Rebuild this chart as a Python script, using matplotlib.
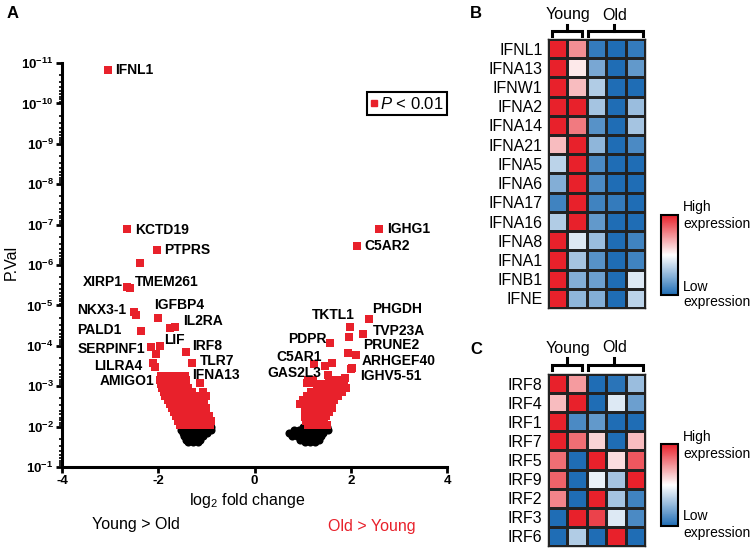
import matplotlib
matplotlib.use('Agg')
import matplotlib.pyplot as plt
from matplotlib.colors import LinearSegmentedColormap
from matplotlib.lines import Line2D
from matplotlib.ticker import LogLocator, NullFormatter
import numpy as np

plt.rcParams.update({
    'font.family': ['Liberation Sans', 'DejaVu Sans'],
    'mathtext.fontset': 'custom',
    'mathtext.rm': 'Liberation Sans',
    'mathtext.bf': 'Liberation Sans:bold',
    'mathtext.it': 'Liberation Sans:italic',
    'axes.unicode_minus': False,
})

RED = '#e8212b'
BLUE = '#1f6db5'

# ---- volcano data: (log2 fold change, P value) ----
labeled = [
    ('IFNL1', -3.05, 1.5e-11), ('KCTD19', -2.65, 1.3e-7), ('PTPRS', -2.03, 4.3e-7),
    ('', -2.38, 9.0e-7), ('XIRP1', -2.65, 3.6e-6), ('TMEM261', -2.59, 3.8e-6),
    ('NKX3-1', -2.51, 1.45e-5), ('', -2.47, 1.7e-5), ('IGFBP4', -2.0, 2.0e-5),
    ('IL2RA', -1.76, 3.6e-5), ('', -1.66, 3.4e-5), ('PALD1', -2.36, 4.3e-5),
    ('LIF', -1.97, 1.0e-4), ('SERPINF1', -2.15, 1.1e-4), ('', -2.05, 1.6e-4),
    ('IRF8', -1.43, 1.4e-4), ('TLR7', -1.29, 2.7e-4), ('LILRA4', -2.1, 2.7e-4),
    ('', -2.07, 3.3e-4), ('IFNA13', -1.13, 8.3e-4),
    ('IGHG1', 2.59, 1.3e-7), ('C5AR2', 2.13, 3.4e-7), ('PHGDH', 2.38, 2.2e-5),
    ('TKTL1', 1.99, 3.4e-5), ('TVP23A', 2.26, 5.1e-5), ('', 1.97, 6.0e-5),
    ('PDPR', 1.57, 8.5e-5), ('PRUNE2', 1.95, 1.5e-4), ('', 2.11, 1.7e-4),
    ('C5AR1', 1.24, 2.8e-4), ('', 1.47, 3.2e-4), ('', 1.61, 2.7e-4),
    ('ARHGEF40', 2.02, 3.5e-4), ('', 2.0, 3.8e-4), ('GAS2L3', 1.53, 5.2e-4),
    ('IGHV5-51', 1.88, 6.3e-4), ('', 1.09, 8.3e-4), ('', 1.22, 8.1e-4),
    ('', 0.95, 2.75e-3), ('', 1.05, 5.8e-3),
]

# label text anchor: (x, y, ha)
label_pos = {
    'IFNL1': (-2.90, 1.5e-11, 'left'), 'KCTD19': (-2.48, 1.35e-7, 'left'),
    'PTPRS': (-1.88, 4.3e-7, 'left'), 'XIRP1': (-2.73, 2.6e-6, 'right'),
    'TMEM261': (-2.48, 2.6e-6, 'left'), 'NKX3-1': (-2.66, 1.3e-5, 'right'),
    'PALD1': (-2.76, 4.1e-5, 'right'), 'IGFBP4': (-2.09, 9.8e-6, 'left'),
    'IL2RA': (-1.48, 2.45e-5, 'left'), 'LIF': (-1.88, 7.2e-5, 'left'),
    'SERPINF1': (-2.28, 1.2e-4, 'right'), 'IRF8': (-1.29, 1.0e-4, 'left'),
    'LILRA4': (-2.32, 3.2e-4, 'right'), 'TLR7': (-1.13, 2.35e-4, 'left'),
    'IFNA13': (-1.30, 5.4e-4, 'left'), 'AMIGO1': (-2.07, 7.4e-4, 'right'),
    'IGHG1': (2.75, 1.3e-7, 'left'), 'C5AR2': (2.28, 3.4e-7, 'left'),
    'PHGDH': (2.44, 1.23e-5, 'left'), 'TKTL1': (2.09, 1.74e-5, 'right'),
    'TVP23A': (2.46, 4.3e-5, 'left'), 'PDPR': (1.50, 6.8e-5, 'right'),
    'PRUNE2': (2.25, 9.5e-5, 'left'), 'C5AR1': (1.40, 1.9e-4, 'right'),
    'ARHGEF40': (2.23, 2.4e-4, 'left'), 'GAS2L3': (1.38, 4.8e-4, 'right'),
    'IGHV5-51': (2.19, 5.6e-4, 'left'),
}

left_sig = [
    (-1.94, 5.5e-4), (-1.82, 5.5e-4), (-1.76, 5.5e-4), (-1.61, 5.5e-4), (-1.45, 5.5e-4),
    (-1.97, 7.0e-4), (-1.88, 7.0e-4), (-1.72, 7.0e-4), (-1.55, 7.0e-4), (-1.42, 7.0e-4),
    (-1.95, 8.9e-4), (-1.85, 8.9e-4), (-1.76, 8.9e-4), (-1.66, 8.9e-4), (-1.55, 8.9e-4), (-1.45, 8.9e-4),
    (-1.92, 1.12e-3), (-1.82, 1.12e-3), (-1.72, 1.12e-3), (-1.62, 1.12e-3), (-1.5, 1.12e-3), (-1.38, 1.12e-3),
    (-1.88, 1.41e-3), (-1.78, 1.41e-3), (-1.68, 1.41e-3), (-1.56, 1.41e-3), (-1.45, 1.41e-3), (-1.3, 1.41e-3), (-1.07, 1.41e-3),
    (-1.85, 1.78e-3), (-1.74, 1.78e-3), (-1.64, 1.78e-3), (-1.52, 1.78e-3), (-1.4, 1.78e-3), (-1.2, 1.78e-3), (-1.0, 1.78e-3),
    (-1.8, 2.24e-3), (-1.7, 2.24e-3), (-1.6, 2.24e-3), (-1.48, 2.24e-3), (-1.36, 2.24e-3), (-1.22, 2.24e-3), (-1.1, 2.24e-3),
    (-1.76, 2.82e-3), (-1.66, 2.82e-3), (-1.55, 2.82e-3), (-1.44, 2.82e-3), (-1.32, 2.82e-3), (-1.15, 2.82e-3), (-1.05, 2.82e-3),
    (-1.72, 3.55e-3), (-1.62, 3.55e-3), (-1.5, 3.55e-3), (-1.4, 3.55e-3), (-1.28, 3.55e-3), (-1.12, 3.55e-3), (-1.0, 3.55e-3),
    (-1.68, 4.47e-3), (-1.58, 4.47e-3), (-1.47, 4.47e-3), (-1.35, 4.47e-3), (-1.22, 4.47e-3), (-1.08, 4.47e-3),
    (-1.64, 5.62e-3), (-1.54, 5.62e-3), (-1.42, 5.62e-3), (-1.3, 5.62e-3), (-1.18, 5.62e-3), (-1.05, 5.62e-3), (-0.95, 5.62e-3),
    (-1.6, 7.08e-3), (-1.5, 7.08e-3), (-1.38, 7.08e-3), (-1.25, 7.08e-3), (-1.12, 7.08e-3), (-0.98, 7.08e-3), (-0.9, 7.08e-3),
    (-1.55, 8.9e-3), (-1.45, 8.9e-3), (-1.32, 8.9e-3), (-1.2, 8.9e-3), (-1.05, 8.9e-3), (-0.92, 8.9e-3),
]

right_sig = [
    (1.12, 7.0e-4), (1.22, 7.0e-4), (1.55, 7.0e-4), (1.68, 7.0e-4), (1.8, 7.0e-4),
    (1.38, 8.9e-4), (1.5, 8.9e-4), (1.62, 8.9e-4), (1.74, 8.9e-4), (1.86, 8.9e-4),
    (1.3, 1.12e-3), (1.42, 1.12e-3), (1.55, 1.12e-3), (1.66, 1.12e-3), (1.78, 1.12e-3), (1.9, 1.12e-3),
    (1.18, 1.41e-3), (1.3, 1.41e-3), (1.45, 1.41e-3), (1.58, 1.41e-3), (1.7, 1.41e-3), (1.82, 1.41e-3),
    (1.1, 1.78e-3), (1.22, 1.78e-3), (1.35, 1.78e-3), (1.48, 1.78e-3), (1.6, 1.78e-3), (1.74, 1.78e-3),
    (1.0, 2.24e-3), (1.15, 2.24e-3), (1.28, 2.24e-3), (1.4, 2.24e-3), (1.52, 2.24e-3), (1.66, 2.24e-3),
    (1.08, 2.82e-3), (1.2, 2.82e-3), (1.33, 2.82e-3), (1.45, 2.82e-3), (1.58, 2.82e-3),
    (1.12, 3.55e-3), (1.25, 3.55e-3), (1.38, 3.55e-3), (1.5, 3.55e-3), (1.62, 3.55e-3),
    (1.05, 4.47e-3), (1.18, 4.47e-3), (1.3, 4.47e-3), (1.42, 4.47e-3), (1.55, 4.47e-3),
    (1.12, 5.62e-3), (1.24, 5.62e-3), (1.36, 5.62e-3), (1.48, 5.62e-3),
    (1.08, 7.08e-3), (1.2, 7.08e-3), (1.32, 7.08e-3), (1.45, 7.08e-3),
    (1.12, 8.9e-3), (1.25, 8.9e-3), (1.38, 8.9e-3), (1.5, 8.9e-3),
]

left_ns = [
    (-1.5, 1.0e-2), (-1.4, 1.0e-2), (-1.3, 1.0e-2), (-1.2, 1.0e-2), (-1.1, 1.0e-2), (-1.0, 1.0e-2), (-0.9, 1.0e-2),
    (-1.52, 1.2e-2), (-1.42, 1.2e-2), (-1.32, 1.2e-2), (-1.22, 1.2e-2), (-1.12, 1.2e-2), (-1.02, 1.2e-2), (-0.9, 1.2e-2),
    (-1.48, 1.45e-2), (-1.38, 1.45e-2), (-1.28, 1.45e-2), (-1.18, 1.45e-2), (-1.08, 1.45e-2), (-0.98, 1.45e-2),
    (-1.46, 1.75e-2), (-1.36, 1.75e-2), (-1.26, 1.75e-2), (-1.16, 1.75e-2), (-1.06, 1.75e-2),
    (-1.43, 2.1e-2), (-1.33, 2.1e-2), (-1.23, 2.1e-2), (-1.13, 2.1e-2),
    (-1.38, 2.4e-2), (-1.28, 2.4e-2), (-1.18, 2.4e-2),
]

right_ns = [
    (1.0, 1.0e-2), (1.1, 1.0e-2), (1.2, 1.0e-2), (1.3, 1.0e-2), (1.4, 1.0e-2), (1.5, 1.0e-2),
    (0.82, 1.2e-2), (0.92, 1.2e-2), (1.02, 1.2e-2), (1.12, 1.2e-2), (1.22, 1.2e-2), (1.32, 1.2e-2), (1.42, 1.2e-2), (1.52, 1.2e-2),
    (0.72, 1.45e-2), (0.82, 1.45e-2), (0.92, 1.45e-2), (1.02, 1.45e-2), (1.12, 1.45e-2), (1.22, 1.45e-2), (1.32, 1.45e-2), (1.42, 1.45e-2),
    (0.78, 1.75e-2), (0.88, 1.75e-2), (0.98, 1.75e-2), (1.08, 1.75e-2), (1.18, 1.75e-2), (1.28, 1.75e-2), (1.38, 1.75e-2),
    (0.95, 2.1e-2), (1.05, 2.1e-2), (1.15, 2.1e-2), (1.25, 2.1e-2), (1.35, 2.1e-2),
    (1.05, 2.4e-2), (1.15, 2.4e-2), (1.25, 2.4e-2),
]

# ---- heatmap data (-1 = low, 1 = high) ----
ifn_genes = ['IFNL1', 'IFNA13', 'IFNW1', 'IFNA2', 'IFNA14', 'IFNA21', 'IFNA5',
             'IFNA6', 'IFNA17', 'IFNA16', 'IFNA8', 'IFNA1', 'IFNB1', 'IFNE']
ifn_vals = [
    [1.0, 0.5, -0.9, -1.0, -0.9],
    [1.0, 0.1, -0.6, -1.0, -0.7],
    [1.0, 0.3, -0.35, -1.0, -1.0],
    [1.0, 1.0, -0.4, -1.0, -0.45],
    [1.0, 0.6, -0.75, -1.0, -0.4],
    [0.3, 1.0, -0.5, -1.0, -0.8],
    [-0.3, 1.0, -0.8, -1.0, -1.0],
    [-0.55, 1.0, -0.8, -1.0, -1.0],
    [-0.85, 1.0, -0.85, -0.9, -1.0],
    [-0.35, 1.0, -0.7, -1.0, -1.0],
    [1.0, -0.15, -0.45, -1.0, -0.85],
    [1.0, -0.4, -0.75, -1.0, -0.85],
    [1.0, -0.55, -0.65, -1.0, -0.15],
    [1.0, -0.5, -0.55, -1.0, -0.3],
]
irf_genes = ['IRF8', 'IRF4', 'IRF1', 'IRF7', 'IRF5', 'IRF9', 'IRF2', 'IRF3', 'IRF6']
irf_vals = [
    [1.0, 0.45, -1.0, -0.95, -0.45],
    [0.3, 1.0, -1.0, -0.15, -0.65],
    [1.0, -0.8, -0.7, -1.0, -1.0],
    [1.0, 0.65, 0.2, -1.0, 0.3],
    [0.65, -1.0, 1.0, 0.15, 0.75],
    [0.7, -1.0, -0.1, -0.4, 1.0],
    [0.55, -1.0, 1.0, -0.4, -0.85],
    [-1.0, 1.0, 0.85, -0.15, -0.8],
    [-1.0, -0.35, -1.0, 1.0, -1.0],
]

fig = plt.figure(figsize=(7.53, 5.49), dpi=100)
W, H = 753, 549

def fx(px):
    return px / W

def fy(py):
    return 1 - py / H

# ---------------- panel A ----------------
ax = fig.add_axes([fx(62), fy(467), fx(447) - fx(62), fy(63) - fy(467)])
ax.set_yscale('log')
for pts in (left_ns, right_ns):
    ax.scatter([p[0] for p in pts], [p[1] for p in pts], s=34, c='black', marker='o',
               linewidths=0, zorder=2, clip_on=False)
for pts in (left_sig, right_sig):
    ax.scatter([p[0] for p in pts], [p[1] for p in pts], s=26, c=RED, marker='s',
               linewidths=0, zorder=3)
ax.scatter([g[1] for g in labeled], [g[2] for g in labeled], s=26, c=RED, marker='s',
           linewidths=0, zorder=3)
for name, (tx, ty, ha) in label_pos.items():
    ax.text(tx, ty, name, ha=ha, va='center', fontsize=10, fontweight='bold', zorder=4)

ax.set_xlim(-4, 4)
ax.set_ylim(1e-1, 1e-11)
ax.set_xticks([-4, -2, 0, 2, 4])
ax.set_xticklabels(['-4', '-2', '0', '2', '4'], fontweight='bold', fontsize=9.5)
yt = [10.0 ** -k for k in range(1, 12)]
ax.set_yticks(yt)
ax.set_yticklabels([r'$\mathbf{10^{-%d}}$' % k for k in range(1, 12)], fontsize=9.5)
ax.yaxis.set_minor_locator(LogLocator(base=10, subs=np.arange(2, 10), numticks=30))
ax.yaxis.set_minor_formatter(NullFormatter())
ax.tick_params(axis='both', which='major', direction='out', length=4, width=2, pad=2)
ax.tick_params(axis='y', which='minor', direction='out', length=2.5, width=1.2)
for sp in ['top', 'right']:
    ax.spines[sp].set_visible(False)
for sp in ['left', 'bottom']:
    ax.spines[sp].set_linewidth(2.2)

leg = ax.legend(handles=[Line2D([], [], marker='s', color=RED, ls='', markersize=5)],
                labels=[r'$\mathit{P}$ < 0.01'], loc='upper right',
                bbox_to_anchor=(fx(447), fy(92)), bbox_transform=fig.transFigure,
                fontsize=12, handlelength=0.4, handletextpad=0.15, borderpad=0.22,
                borderaxespad=0, fancybox=False, framealpha=1)
leg.get_frame().set_edgecolor('black')
leg.get_frame().set_linewidth(1.5)

fig.text(fx(11), fy(262), 'P.Val', rotation=90, ha='center', va='center', fontsize=11.5)
fig.text(fx(247), fy(500), r'log$_2$ fold change', ha='center', va='center', fontsize=11.5)
fig.text(fx(136), fy(525), 'Young > Old', ha='center', va='center', fontsize=11.5)
fig.text(fx(372), fy(527), 'Old > Young', ha='center', va='center', fontsize=11.5, color=RED)
fig.text(fx(13), fy(13), 'A', ha='center', va='center', fontsize=12, fontweight='bold')
fig.text(fx(476), fy(13), 'B', ha='center', va='center', fontsize=12, fontweight='bold')
fig.text(fx(476), fy(350), 'C', ha='center', va='center', fontsize=12, fontweight='bold')

# ---------------- heatmaps B and C ----------------
cmap = LinearSegmentedColormap.from_list('expr', [BLUE, '#ffffff', RED])

def heatmap(top, bottom, genes, vals, cb_top, cb_bot, hi_y, lo_y, txt_y, br_y, br_end, br_tip):
    hax = fig.add_axes([fx(548), fy(bottom), fx(645) - fx(548), fy(top) - fy(bottom)])
    n = len(genes)
    cell = (bottom - top) / n
    mesh = hax.pcolormesh(np.array(vals), cmap=cmap, vmin=-1, vmax=1,
                          edgecolors='#222222', linewidth=0.9)
    hax.set_xlim(0, 5)
    hax.set_ylim(n, 0)
    hax.set_xticks([])
    hax.set_yticks(np.arange(n) + 0.5)
    hax.set_yticklabels(genes, fontsize=11.5)
    hax.tick_params(axis='y', length=0, pad=4)
    for sp in hax.spines.values():
        sp.set_linewidth(1.0)
        sp.set_color('#222222')
    # group brackets and labels
    def to_y(py):
        return (py - top) / cell
    for x0, x1, xm in [(0.2, 1.75, 0.98), (2.06, 4.9, 3.42)]:
        hax.plot([x0, x0, x1, x1], [to_y(br_end), to_y(br_y), to_y(br_y), to_y(br_end)],
                 color='black', lw=2.2, clip_on=False, solid_joinstyle='miter')
        hax.plot([xm, xm], [to_y(br_y), to_y(br_tip)], color='black', lw=2.2, clip_on=False)
    hax.text(1.03, to_y(txt_y), 'Young', ha='center', va='center', fontsize=11.5, clip_on=False)
    hax.text(3.45, to_y(txt_y), 'Old', ha='center', va='center', fontsize=11.5, clip_on=False)
    cax = fig.add_axes([fx(661), fy(cb_bot), fx(678) - fx(661), fy(cb_top) - fy(cb_bot)])
    cb = fig.colorbar(mesh, cax=cax)
    cb.set_ticks([])
    cb.outline.set_linewidth(1.5)
    fig.text(fx(683), fy(hi_y[0]), 'High', ha='left', va='center', fontsize=10)
    fig.text(fx(683), fy(hi_y[1]), 'expression', ha='left', va='center', fontsize=10)
    fig.text(fx(683), fy(lo_y[0]), 'Low', ha='left', va='center', fontsize=10)
    fig.text(fx(683), fy(lo_y[1]), 'expression', ha='left', va='center', fontsize=10)

heatmap(39, 308, ifn_genes, ifn_vals, 215, 295, (207, 224), (287, 302), 15, 31, 36, 25)
heatmap(374, 546, irf_genes, irf_vals, 444, 526, (437, 454), (516, 533), 348, 365, 370, 358)

fig.savefig('out.png', dpi=100)
